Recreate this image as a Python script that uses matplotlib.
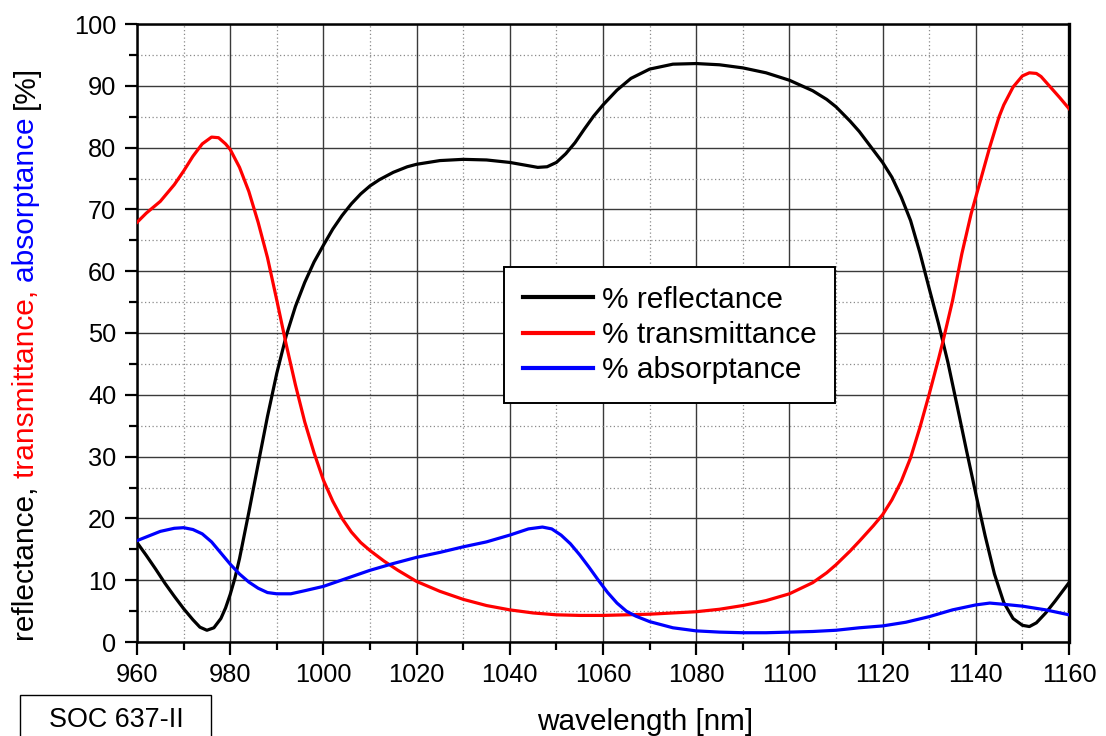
import numpy as np
import matplotlib
matplotlib.use("Agg")
import matplotlib.pyplot as plt
from matplotlib.ticker import MultipleLocator
from matplotlib.patches import Rectangle

plt.rcParams['font.family'] = ['Liberation Sans', 'DejaVu Sans']

# values (wavelength in nm, percent)
wl_refl = [960, 962, 964, 966, 968, 970, 972, 973.5, 975, 976.5, 978, 979, 980, 981, 982,
           984, 986, 988, 990, 992, 994, 996, 998, 1000, 1002, 1004, 1006, 1008, 1010,
           1012, 1015, 1018, 1020, 1025, 1030, 1035, 1040, 1043, 1046, 1048, 1050, 1052,
           1054, 1056, 1058, 1060, 1063, 1066, 1070, 1075, 1080, 1085, 1090, 1095, 1100,
           1105, 1108, 1110, 1113, 1115, 1117, 1120, 1122, 1124, 1126, 1128, 1130, 1132,
           1134, 1136, 1138, 1140, 1142, 1144, 1146, 1148, 1150, 1151.5, 1153, 1155,
           1157, 1160]
refl = [16.1, 14.0, 11.8, 9.5, 7.4, 5.4, 3.6, 2.4, 1.9, 2.3, 3.8, 5.5, 7.7, 10.3, 13.5,
        21.0, 28.8, 36.5, 43.5, 49.5, 54.3, 58.2, 61.5, 64.2, 66.8, 69.0, 70.9, 72.5, 73.8,
        74.8, 76.0, 76.9, 77.3, 77.9, 78.1, 78.0, 77.6, 77.2, 76.8, 76.9, 77.6, 79.0,
        80.8, 83.0, 85.1, 86.9, 89.3, 91.2, 92.7, 93.5, 93.6, 93.4, 92.9, 92.1, 90.9,
        89.2, 87.8, 86.6, 84.3, 82.6, 80.6, 77.6, 75.2, 72.0, 68.2, 63.0, 57.2, 51.5,
        45.3, 38.2, 31.0, 24.0, 17.2, 11.0, 6.4, 3.8, 2.7, 2.5, 3.1, 4.7,
        6.6, 9.6]

wl_trans = [960, 962, 965, 968, 970, 972, 974, 976, 977.5, 979, 980, 982, 984, 986, 988,
            990, 992, 994, 996, 998, 1000, 1002, 1004, 1006, 1008, 1010, 1013, 1016, 1020,
            1025, 1030, 1035, 1040, 1045, 1050, 1055, 1060, 1065, 1070, 1075, 1080, 1085,
            1090, 1095, 1100, 1105, 1108, 1110, 1113, 1115, 1118, 1120, 1122, 1124, 1126,
            1128, 1130, 1132, 1133, 1135, 1137, 1139, 1141, 1143, 1145, 1146, 1148, 1150,
            1151.5, 1153, 1154, 1156, 1158, 1160]
trans = [67.9, 69.4, 71.3, 74.0, 76.2, 78.6, 80.6, 81.7, 81.6, 80.6, 79.7, 76.8, 72.9,
         67.9, 62.2, 55.3, 48.2, 41.6, 35.6, 30.6, 26.2, 22.8, 20.0, 17.8, 16.1, 14.8,
         13.1, 11.6, 9.8, 8.2, 6.9, 5.9, 5.2, 4.7, 4.4, 4.3, 4.3, 4.4, 4.5, 4.7, 4.9,
         5.3, 5.9, 6.7, 7.8, 9.6, 11.2, 12.5, 14.7, 16.3, 18.8, 20.6, 23.0, 26.0, 29.8,
         34.7, 40.1, 45.8, 48.8, 55.2, 62.8, 69.3, 74.7, 80.1, 85.0, 86.9, 89.8, 91.6,
         92.1, 92.0, 91.5, 89.8, 88.1, 86.3]

wl_abs = [960, 962, 965, 968, 970, 972, 974, 976, 978, 980, 982, 984, 986, 988, 990,
          993, 996, 1000, 1005, 1010, 1015, 1020, 1025, 1030, 1035, 1040, 1044, 1047,
          1049, 1051, 1053, 1055, 1057, 1059, 1061, 1063, 1065, 1067, 1070, 1075, 1080,
          1085, 1090, 1095, 1100, 1105, 1110, 1115, 1120, 1125, 1130, 1135, 1140, 1143,
          1146, 1150, 1155, 1160]
absorp = [16.4, 17.0, 17.9, 18.4, 18.5, 18.2, 17.5, 16.2, 14.4, 12.6, 11.0, 9.7, 8.7,
          8.0, 7.8, 7.8, 8.3, 9.0, 10.3, 11.6, 12.7, 13.7, 14.5, 15.4, 16.2, 17.3, 18.3,
          18.6, 18.3, 17.3, 15.9, 14.1, 12.1, 10.0, 8.0, 6.3, 5.0, 4.2, 3.3, 2.3, 1.8,
          1.6, 1.5, 1.5, 1.6, 1.7, 1.9, 2.3, 2.6, 3.2, 4.1, 5.2, 6.0, 6.3,
          6.1, 5.8, 5.2, 4.4]

labels = ['% reflectance', '% transmittance', '% absorptance']
colors = ['black', '#ff0000', '#0000ff']

fig = plt.figure(figsize=(11.06, 7.36), dpi=100)
ax = fig.add_axes([137 / 1106, (736 - 642) / 736, 932 / 1106, 618 / 736])

for x, y, lab, c in zip([wl_refl, wl_trans, wl_abs], [refl, trans, absorp], labels, colors):
    ax.plot(x, y, color=c, lw=2.3, label=lab, zorder=3, solid_joinstyle='round')

ax.set_xlim(960, 1160)
ax.set_ylim(0, 100)
ax.xaxis.set_major_locator(MultipleLocator(20))
ax.xaxis.set_minor_locator(MultipleLocator(10))
ax.yaxis.set_major_locator(MultipleLocator(10))
ax.yaxis.set_minor_locator(MultipleLocator(5))
ax.grid(which='major', color='#3a3a3a', lw=1.0, ls='-')
ax.grid(which='minor', color='#8a8a8a', lw=0.9, ls=(0, (1, 2)))
ax.set_axisbelow(True)
ax.tick_params(which='both', direction='out', top=False, right=False,
               labelsize=18.3, width=1.6, color='black', pad=6)
ax.tick_params(which='major', length=9)
ax.tick_params(which='minor', length=5.5)
for s in ax.spines.values():
    s.set_linewidth(1.8)
ax.spines['right'].set_linewidth(2.4)

leg = ax.legend(loc='upper left', bbox_to_anchor=(0.3938, 0.6068), fontsize=21.5,
                frameon=True, fancybox=False, framealpha=1, edgecolor='black',
                handlelength=2.35, handletextpad=0.3, borderpad=0.62,
                labelspacing=0.25, borderaxespad=0)
leg.get_frame().set_linewidth(1.4)
for h in leg.get_lines():
    h.set_linewidth(3)

fig.text(645 / 1106, (736 - 730) / 736, 'wavelength [nm]', fontsize=21.4,
         ha='center', va='baseline')

# SOC label box, partly cut off at the bottom
fig.patches.append(Rectangle((20 / 1106, -0.02), 191 / 1106, (736 - 695) / 736 + 0.02,
                             transform=fig.transFigure, fill=False,
                             edgecolor='black', lw=1.0))
fig.text(116 / 1106, (736 - 727) / 736, 'SOC 637-II', fontsize=19.4,
         ha='center', va='baseline')

# multi-coloured y label
parts = ['reflectance, ', 'transmittance, ', 'absorptance ', '[%]']
part_colors = ['black', '#ff0000', '#0000ff', 'black']
fig.canvas.draw()
renderer = fig.canvas.get_renderer()
xlab = 26 / 1106
ybot = (736 - 641) / 736
for p, c in zip(parts, part_colors):
    t = fig.text(xlab, ybot, p, color=c, fontsize=21.5, rotation=90,
                 ha='center', va='bottom')
    bb = t.get_window_extent(renderer)
    ybot += bb.height / fig.bbox.height

fig.savefig('out.png', dpi=100)
